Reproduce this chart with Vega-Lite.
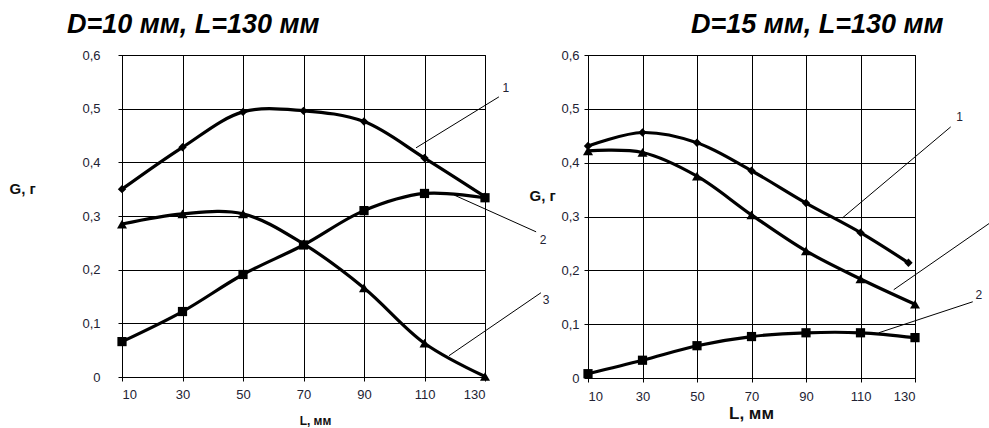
{
  "$schema": "https://vega.github.io/schema/vega-lite/v6.json",
  "autosize": {"type": "pad"},
  "padding": {"left": 8, "top": 10, "right": 0, "bottom": 0},
  "background": "white",
  "bounds": "flush",
  "spacing": 103,
  "config": {
    "font": "Liberation Sans",
    "view": {"stroke": "black", "strokeWidth": 1},
    "axis": {
      "labelFont": "Liberation Sans",
      "labelFontSize": 13,
      "labelColor": "#222233",
      "titleFont": "Liberation Sans",
      "titleColor": "#111111",
      "domainColor": "black",
      "tickColor": "black",
      "gridColor": "black",
      "gridOpacity": 1,
      "gridWidth": 1,
      "tickSize": 4,
      "domainWidth": 1
    }
  },
  "datasets": {
    "left": [
      {"L": 10, "G": 0.350, "s": "1"}, {"L": 30, "G": 0.428, "s": "1"}, {"L": 50, "G": 0.494, "s": "1"}, {"L": 70, "G": 0.496, "s": "1"}, {"L": 90, "G": 0.476, "s": "1"}, {"L": 110, "G": 0.408, "s": "1"}, {"L": 130, "G": 0.336, "s": "1"},
      {"L": 10, "G": 0.066, "s": "2"}, {"L": 30, "G": 0.122, "s": "2"}, {"L": 50, "G": 0.191, "s": "2"}, {"L": 70, "G": 0.246, "s": "2"}, {"L": 90, "G": 0.310, "s": "2"}, {"L": 110, "G": 0.342, "s": "2"}, {"L": 130, "G": 0.334, "s": "2"},
      {"L": 10, "G": 0.285, "s": "3"}, {"L": 30, "G": 0.304, "s": "3"}, {"L": 50, "G": 0.304, "s": "3"}, {"L": 70, "G": 0.248, "s": "3"}, {"L": 90, "G": 0.166, "s": "3"}, {"L": 110, "G": 0.063, "s": "3"}, {"L": 130, "G": 0.001, "s": "3"}
    ],
    "right": [
      {"L": 10, "G": 0.431, "s": "1"}, {"L": 30, "G": 0.456, "s": "1"}, {"L": 50, "G": 0.437, "s": "1"}, {"L": 70, "G": 0.385, "s": "1"}, {"L": 90, "G": 0.325, "s": "1"}, {"L": 110, "G": 0.270, "s": "1"}, {"L": 127.6, "G": 0.214, "s": "1"},
      {"L": 10, "G": 0.008, "s": "2"}, {"L": 30, "G": 0.033, "s": "2"}, {"L": 50, "G": 0.060, "s": "2"}, {"L": 70, "G": 0.077, "s": "2"}, {"L": 90, "G": 0.084, "s": "2"}, {"L": 110, "G": 0.084, "s": "2"}, {"L": 130, "G": 0.075, "s": "2"},
      {"L": 10, "G": 0.422, "s": "3"}, {"L": 30, "G": 0.419, "s": "3"}, {"L": 50, "G": 0.375, "s": "3"}, {"L": 70, "G": 0.303, "s": "3"}, {"L": 90, "G": 0.236, "s": "3"}, {"L": 110, "G": 0.184, "s": "3"}, {"L": 130, "G": 0.137, "s": "3"}
    ],
    "leftNotes": [
      {"x": 107.2, "y": 0.427, "x2": 134.6, "y2": 0.522, "lx": 136.9, "ly": 0.539, "label": "1"},
      {"x": 119.8, "y": 0.339, "x2": 146.9, "y2": 0.2705, "lx": 149.2, "ly": 0.256, "label": "2"},
      {"x": 118.1, "y": 0.0397, "x2": 148.5, "y2": 0.157, "lx": 150.2, "ly": 0.144, "label": "3"}
    ],
    "rightNotes": [
      {"x": 103.4, "y": 0.2975, "x2": 143.1, "y2": 0.4664, "lx": 146.4, "ly": 0.485, "label": "1"},
      {"x": 122.2, "y": 0.164, "x2": 157.4, "y2": 0.2877, "lx": null, "ly": null, "label": ""},
      {"x": 116.7, "y": 0.084, "x2": 151.2, "y2": 0.1416, "lx": 153.4, "ly": 0.1547, "label": "2"}
    ]
  },
  "hconcat": [
    {
      "width": 363,
      "height": 322,
      "title": {"text": "D=10 мм, L=130 мм", "anchor": "start", "frame": "group", "dx": -55, "fontSize": 27, "fontStyle": "italic", "fontWeight": "bold", "font": "Liberation Sans", "color": "black", "baseline": "alphabetic", "offset": -11},
      "layer": [
        {
          "data": {"name": "left"},
          "mark": {"type": "line", "interpolate": "catmull-rom", "color": "black", "strokeWidth": 3.2},
          "encoding": {
            "x": {"field": "L", "type": "quantitative", "scale": {"domain": [10, 130], "nice": false, "zero": false},
              "axis": {"values": [10, 30, 50, 70, 90, 110, 130], "grid": true, "title": "L, мм", "titleFontSize": 12, "titleFontWeight": "bold", "titleX": 193, "titleY": 43, "titleBaseline": "middle", "titleAlign": "center", "labelPadding": 7}},
            "y": {"field": "G", "type": "quantitative", "scale": {"domain": [0, 0.6], "nice": false},
              "axis": {"values": [0, 0.1, 0.2, 0.3, 0.4, 0.5, 0.6], "grid": true, "labelExpr": "datum.value == 0 ? '0' : replace(format(datum.value, '.1f'), '.', ',')", "labelPadding": 18, "title": "G, г", "titleAngle": 0, "titleFontSize": 15, "titleFontWeight": "bold", "titleX": -113, "titleY": 133, "titleAlign": "left", "titleBaseline": "middle"}},
            "detail": {"field": "s"}
          }
        },
        {
          "data": {"name": "left"},
          "mark": {"type": "point", "filled": true, "color": "black", "opacity": 1},
          "encoding": {
            "x": {"field": "L", "type": "quantitative"},
            "y": {"field": "G", "type": "quantitative"},
            "shape": {"field": "s", "type": "nominal", "scale": {"domain": ["1", "2", "3"], "range": ["diamond", "square", "triangle-up"]}, "legend": null},
            "size": {"field": "s", "type": "nominal", "scale": {"domain": ["1", "2", "3"], "range": [70, 100, 110]}, "legend": null}
          }
        },
        {
          "data": {"name": "leftNotes"},
          "mark": {"type": "rule", "color": "black", "strokeWidth": 1},
          "encoding": {
            "x": {"field": "x", "type": "quantitative"},
            "y": {"field": "y", "type": "quantitative"},
            "x2": {"field": "x2"},
            "y2": {"field": "y2"}
          }
        },
        {
          "data": {"name": "leftNotes"},
          "mark": {"type": "text", "fontSize": 12, "color": "#222233", "align": "center", "baseline": "middle"},
          "encoding": {
            "x": {"field": "lx", "type": "quantitative"},
            "y": {"field": "ly", "type": "quantitative"},
            "text": {"field": "label"}
          }
        }
      ]
    },
    {
      "width": 327,
      "height": 323,
      "title": {"text": "D=15 мм, L=130 мм", "anchor": "start", "frame": "group", "dx": 103, "fontSize": 27, "fontStyle": "italic", "fontWeight": "bold", "font": "Liberation Sans", "color": "black", "baseline": "alphabetic", "offset": -11},
      "layer": [
        {
          "data": {"name": "right"},
          "mark": {"type": "line", "interpolate": "catmull-rom", "color": "black", "strokeWidth": 3.2},
          "encoding": {
            "x": {"field": "L", "type": "quantitative", "scale": {"domain": [10, 130], "nice": false, "zero": false},
              "axis": {"values": [10, 30, 50, 70, 90, 110, 130], "grid": true, "title": "L, мм", "titleFontSize": 17, "titleFontWeight": "bold", "titleX": 163, "titleY": 35, "titleBaseline": "middle", "titleAlign": "center", "labelPadding": 8}},
            "y": {"field": "G", "type": "quantitative", "scale": {"domain": [0, 0.6], "nice": false},
              "axis": {"values": [0, 0.1, 0.2, 0.3, 0.4, 0.5, 0.6], "grid": true, "labelExpr": "datum.value == 0 ? '0' : replace(format(datum.value, '.1f'), '.', ',')", "labelPadding": 5, "title": "G, г", "titleAngle": 0, "titleFontSize": 15, "titleFontWeight": "bold", "titleX": -59, "titleY": 140, "titleAlign": "left", "titleBaseline": "middle"}},
            "detail": {"field": "s"}
          }
        },
        {
          "data": {"name": "right"},
          "mark": {"type": "point", "filled": true, "color": "black", "opacity": 1},
          "encoding": {
            "x": {"field": "L", "type": "quantitative"},
            "y": {"field": "G", "type": "quantitative"},
            "shape": {"field": "s", "type": "nominal", "scale": {"domain": ["1", "2", "3"], "range": ["diamond", "square", "triangle-up"]}, "legend": null},
            "size": {"field": "s", "type": "nominal", "scale": {"domain": ["1", "2", "3"], "range": [70, 95, 95]}, "legend": null}
          }
        },
        {
          "data": {"name": "rightNotes"},
          "mark": {"type": "rule", "color": "black", "strokeWidth": 1},
          "encoding": {
            "x": {"field": "x", "type": "quantitative"},
            "y": {"field": "y", "type": "quantitative"},
            "x2": {"field": "x2"},
            "y2": {"field": "y2"}
          }
        },
        {
          "data": {"name": "rightNotes"},
          "mark": {"type": "text", "fontSize": 12, "color": "#222233", "align": "center", "baseline": "middle"},
          "encoding": {
            "x": {"field": "lx", "type": "quantitative"},
            "y": {"field": "ly", "type": "quantitative"},
            "text": {"field": "label"}
          }
        }
      ]
    }
  ]
}
